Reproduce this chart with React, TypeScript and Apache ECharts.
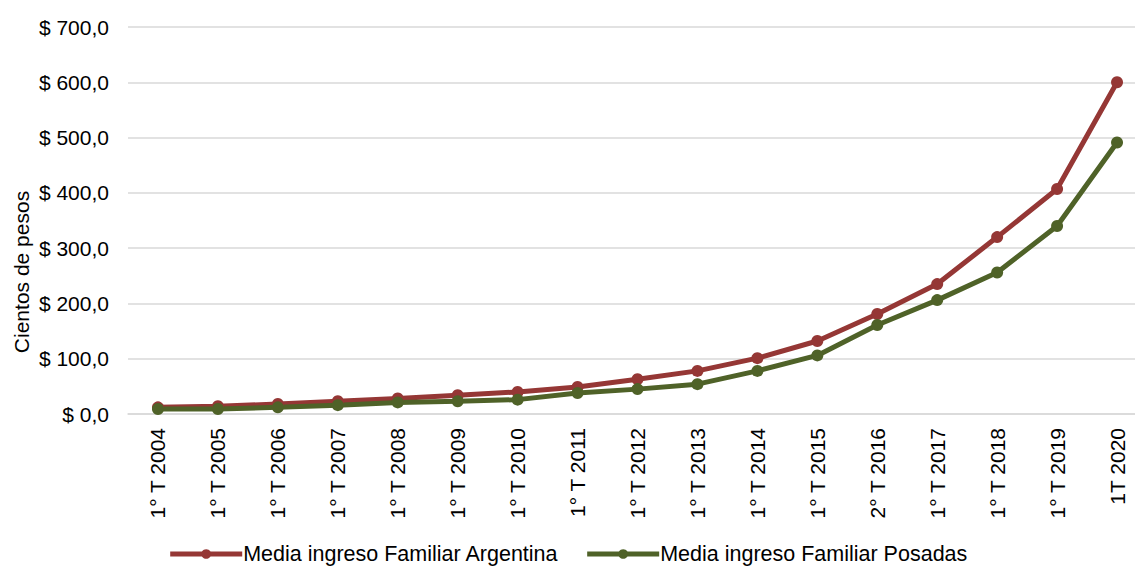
import React, { useEffect, useRef } from "react";
import * as echarts from "echarts";

const categories = [
  "1° T 2004", "1° T 2005", "1° T 2006", "1° T 2007", "1° T 2008", "1° T 2009",
  "1° T 2010", "1° T 2011", "1° T 2012", "1° T 2013", "1° T 2014", "1° T 2015",
  "2° T 2016", "1° T 2017", "1° T 2018", "1° T 2019", "1T 2020",
];
const argentina = [12, 14, 18, 23, 28, 34, 40, 49, 63, 78, 101, 132, 181, 235, 320, 407, 600];
const posadas = [9, 9, 12, 16, 21, 23, 26, 38, 45, 54, 78, 106, 161, 206, 256, 340, 491];
const seriesNames = ["Media ingreso Familiar Argentina", "Media ingreso Familiar Posadas"];
const colors = ["#953735", "#4f6228"];
const yAxisName = "Cientos de pesos";

const FONT = "'Liberation Sans', Arial, Helvetica, sans-serif";
const FS = 21;

export default function App() {
  const ref = useRef<HTMLDivElement>(null);
  useEffect(() => {
    if (!ref.current) return;
    const chart = echarts.init(ref.current, null, { renderer: "svg" });
    chart.setOption({
      animation: false,
      textStyle: { fontFamily: FONT, color: "#000" },
      grid: {
        left: 128,
        width: 1019,
        top: 27,
        height: 387,
        containLabel: false,
        outerBoundsMode: "none",
      },
      xAxis: {
        type: "category",
        data: categories,
        boundaryGap: true,
        axisLine: { show: true, lineStyle: { color: "#d9d9d9", width: 1.5 } },
        axisTick: { show: false },
        axisLabel: { rotate: 90, fontSize: FS, color: "#000", fontFamily: FONT, margin: 14, interval: 0 },
      },
      yAxis: {
        type: "value",
        min: 0,
        max: 700,
        interval: 100,
        axisLine: { show: false },
        axisTick: { show: false },
        splitLine: { lineStyle: { color: "#d9d9d9", width: 1.5 } },
        axisLabel: {
          fontSize: FS,
          color: "#000",
          fontFamily: FONT,
          margin: 19,
          formatter: (v: number) => "$ " + v.toFixed(1).replace(".", ","),
        },
      },
      legend: {
        bottom: -2,
        left: "center",
        itemWidth: 72,
        itemHeight: 12,
        itemGap: 26,
        lineStyle: { width: 5 },
        textStyle: { fontSize: 21.5, color: "#000", fontFamily: FONT, padding: [0, 0, 0, -4] },
        data: seriesNames,
      },
      graphic: [
        {
          type: "text",
          x: 21,
          y: 272,
          rotation: Math.PI / 2,
          style: {
            text: yAxisName,
            fontSize: FS,
            fontFamily: FONT,
            fill: "#000",
            align: "center",
            verticalAlign: "middle",
          },
        },
      ],
      series: [
        {
          name: seriesNames[0],
          type: "line",
          data: argentina,
          symbol: "circle",
          symbolSize: 12,
          lineStyle: { color: colors[0], width: 5 },
          itemStyle: { color: colors[0] },
        },
        {
          name: seriesNames[1],
          type: "line",
          data: posadas,
          symbol: "circle",
          symbolSize: 12,
          lineStyle: { color: colors[1], width: 5 },
          itemStyle: { color: colors[1] },
        },
      ],
    });
    return () => chart.dispose();
  }, []);
  return (
    <div
      ref={ref}
      style={{ position: "fixed", left: 0, top: 0, width: 1135, height: 568, background: "#fff" }}
    />
  );
}
